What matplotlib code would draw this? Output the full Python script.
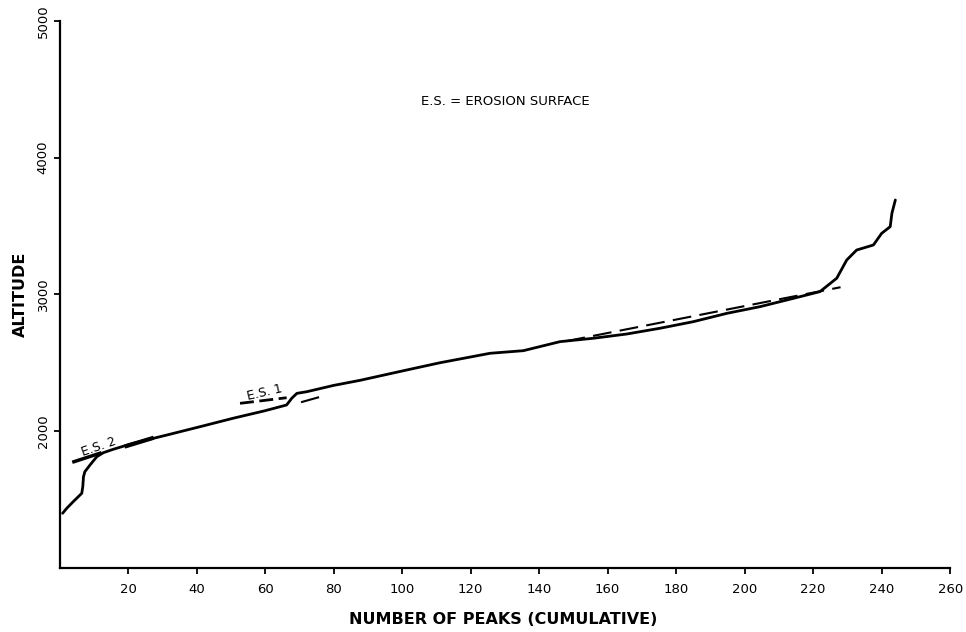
import numpy as np
import matplotlib
matplotlib.use('Agg')
import matplotlib.pyplot as plt

# кривая: число вершин (накопленное) и высота
peaks = [0.9, 2.1, 4.0, 6.5, 6.8, 7.0, 7.4, 8.9, 10.9, 12.8, 15.7, 21.5, 31.3, 41.0,
         50.7, 60.0, 66.3, 67.8, 69.3, 72.2, 80.0, 87.7, 101.4, 111.1, 125.7, 135.4,
         146.1, 155.9, 165.6, 175.3, 185.0, 194.8, 204.5, 214.3, 222.0, 226.9, 229.8,
         232.7, 237.6, 240.0, 242.5, 243.0, 244.0]
altitude = [1400, 1436, 1485, 1546, 1595, 1668, 1704, 1753, 1814, 1843, 1868, 1912,
            1972, 2033, 2095, 2150, 2192, 2241, 2277, 2289, 2335, 2372, 2448, 2501,
            2570, 2589, 2655, 2680, 2711, 2753, 2801, 2862, 2911, 2972, 3021, 3119,
            3252, 3325, 3362, 3447, 3496, 3594, 3691]

# поверхности выравнивания (штриховые продолжения)
es_upper_x = [148, 228]
es_upper_y = [2659, 3053]
es1_x = [70.5, 78.0]
es1_y = [2212, 2265]
es2_x = [19.6, 26.9]
es2_y = [1892, 1948]

# подчёркивания подписей
es1_under_x = [52.7, 66.3]
es1_under_y = [2204, 2245]
es2_under_x = [4.2, 11.8]
es2_under_y = [1777, 1839]

xticks = list(range(20, 261, 20))
yticks = [2000, 3000, 4000, 5000]

fig = plt.figure(figsize=(9.66, 6.32), dpi=100)
ax = fig.add_axes([0.0616, 0.1013, 0.922, 0.8655])

ax.plot(peaks, altitude, color='black', lw=2.0, solid_capstyle='round', solid_joinstyle='round')
ax.plot(es_upper_x, es_upper_y, color='black', lw=1.5, dashes=(9, 4))
ax.plot(es1_x, es1_y, color='black', lw=1.5, dashes=(9, 4))
ax.plot(es2_x, es2_y, color='black', lw=3.0)
ax.plot(es1_under_x, es1_under_y, color='black', lw=2.0, dashes=(5, 2))
ax.plot(es2_under_x, es2_under_y, color='black', lw=2.5)

ax.text(11.5, 1885, 'E.S. 2', rotation=19, ha='center', va='center', fontsize=9)
ax.text(60, 2283, 'E.S. 1', rotation=13, ha='center', va='center', fontsize=9)
ax.text(0.501, 0.852, 'E.S. = EROSION SURFACE', transform=ax.transAxes,
        ha='center', va='center', fontsize=9.5)

ax.set_xlim(0, 260)
ax.set_ylim(1000, 5000)
ax.set_xticks(xticks)
ax.set_yticks(yticks)
ax.set_yticklabels([str(v) for v in yticks], rotation=90, va='center')
ax.tick_params(axis='both', direction='out', length=4, width=1.3, labelsize=9.5)
ax.tick_params(axis='x', pad=7)
ax.tick_params(axis='y', pad=3)

for s in ['top', 'right']:
    ax.spines[s].set_visible(False)
for s in ['left', 'bottom']:
    ax.spines[s].set_linewidth(1.6)

ax.set_xlabel('NUMBER OF PEAKS (CUMULATIVE)', fontsize=11.5, fontweight='bold')
ax.set_ylabel('ALTITUDE', fontsize=11.5, fontweight='bold')
ax.xaxis.set_label_coords(0.498, -0.08)
ax.yaxis.set_label_coords(-0.036, 0.5)

fig.savefig('out.png', dpi=100)
